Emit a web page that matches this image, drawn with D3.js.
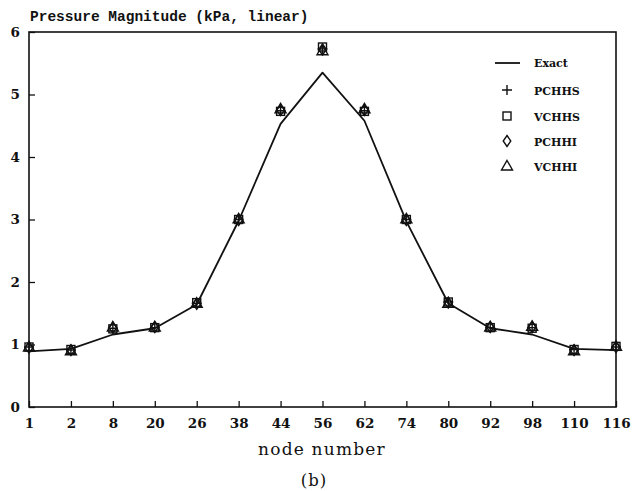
<!DOCTYPE html>
<html>
<head>
<meta charset="utf-8">
<script src="https://cdn.jsdelivr.net/npm/d3@7"></script>
<style>
  html, body { margin: 0; padding: 0; background: #fff; }
  svg { display: block; }
</style>
</head>
<body>
<svg id="chart" width="641" height="491"></svg>
<script>
// Node numbers along the x axis (categorical, evenly spaced)
const nodes = ["1", "2", "8", "20", "26", "38", "44", "56", "62", "74", "80", "92", "98", "110", "116"];

// Exact solution (kPa)
const exact = [0.89, 0.93, 1.16, 1.26, 1.64, 2.98, 4.53, 5.35, 4.58, 2.97, 1.66, 1.26, 1.16, 0.93, 0.91];
// Numerical solutions (kPa)
const pchhs = [0.96, 0.91, 1.26, 1.27, 1.66, 3.00, 4.74, 5.73, 4.74, 3.00, 1.68, 1.27, 1.27, 0.92, 0.96];
const vchhs = [0.96, 0.92, 1.25, 1.27, 1.67, 3.00, 4.73, 5.76, 4.73, 3.00, 1.68, 1.27, 1.26, 0.92, 0.97];
const pchhi = [0.95, 0.91, 1.27, 1.28, 1.65, 2.99, 4.75, 5.72, 4.75, 2.99, 1.67, 1.28, 1.28, 0.91, 0.96];
const vchhi = [0.96, 0.90, 1.28, 1.28, 1.66, 3.01, 4.77, 5.70, 4.77, 3.01, 1.66, 1.28, 1.29, 0.90, 0.97];

const yTicks = [0, 1, 2, 3, 4, 5, 6];
const legendLabels = ["Exact", "PCHHS", "VCHHS", "PCHHI", "VCHHI"];

const svg = d3.select("#chart");
const plotLeft = 29, plotRight = 616, plotTop = 32, plotBottom = 407;

const x = d3.scalePoint().domain(nodes).range([plotLeft, plotRight]).padding(0);
const y = d3.scaleLinear().domain([0, 6]).range([plotBottom, plotTop]);

const serif = "'DejaVu Serif', 'Liberation Serif', serif";
const mono = "'Liberation Mono', 'DejaVu Sans Mono', monospace";

// Plot frame
svg.append("rect")
  .attr("x", plotLeft).attr("y", plotTop)
  .attr("width", plotRight - plotLeft).attr("height", plotBottom - plotTop)
  .attr("fill", "none").attr("stroke", "#111").attr("stroke-width", 1.6);

// X axis: ticks pointing into the plot
const xAxis = svg.append("g")
  .attr("transform", `translate(0,${plotBottom})`)
  .call(d3.axisBottom(x).tickSizeInner(-6).tickSizeOuter(0).tickPadding(11));
xAxis.select(".domain").remove();
xAxis.selectAll(".tick line").attr("stroke", "#111").attr("stroke-width", 1.3);
xAxis.selectAll(".tick text")
  .attr("font-family", serif).attr("font-weight", "bold")
  .attr("font-size", 13.5).attr("fill", "#111");

// Y axis: ticks pointing into the plot
const yAxis = svg.append("g")
  .attr("transform", `translate(${plotLeft},0)`)
  .call(d3.axisLeft(y).tickValues(yTicks).tickFormat(d3.format("d"))
    .tickSizeInner(-6).tickSizeOuter(0).tickPadding(9));
yAxis.select(".domain").remove();
yAxis.selectAll(".tick line").attr("stroke", "#111").attr("stroke-width", 1.3);
yAxis.selectAll(".tick text")
  .attr("font-family", serif).attr("font-weight", "bold")
  .attr("font-size", 13.5).attr("fill", "#111");

// Exact solution line
const line = d3.line().x((d, i) => x(nodes[i])).y(d => y(d));
svg.append("path")
  .datum(exact)
  .attr("d", line)
  .attr("fill", "none").attr("stroke", "#111").attr("stroke-width", 1.8)
  .attr("stroke-linejoin", "round");

// Outline marker glyphs
function drawMarker(g, kind, cx, cy) {
  const s = g.append("g").attr("transform", `translate(${cx},${cy})`)
    .attr("fill", "none").attr("stroke", "#111").attr("stroke-width", 1.4);
  if (kind === "plus") {
    s.append("path").attr("d", "M-5,0H5M0,-5V5");
  } else if (kind === "square") {
    s.append("rect").attr("x", -4).attr("y", -4).attr("width", 8).attr("height", 8);
  } else if (kind === "diamond") {
    s.append("path").attr("d", "M0,-5.5L3.8,0L0,5.5L-3.8,0Z");
  } else if (kind === "triangle") {
    s.append("path").attr("d", "M0,-5.5L5.5,4L-5.5,4Z");
  }
}

const seriesList = [
  { values: pchhs, kind: "plus" },
  { values: vchhs, kind: "square" },
  { values: pchhi, kind: "diamond" },
  { values: vchhi, kind: "triangle" }
];
const markers = svg.append("g");
seriesList.forEach(s => {
  s.values.forEach((v, i) => drawMarker(markers, s.kind, x(nodes[i]), y(v)));
});

// Legend
const legend = svg.append("g");
const legendKinds = ["line", "plus", "square", "diamond", "triangle"];
const legendY = [63, 91, 117, 142, 167];
legendLabels.forEach((lab, i) => {
  const ly = legendY[i];
  if (legendKinds[i] === "line") {
    legend.append("line").attr("x1", 495).attr("x2", 520).attr("y1", ly).attr("y2", ly)
      .attr("stroke", "#111").attr("stroke-width", 1.8);
  } else {
    drawMarker(legend, legendKinds[i], 507, ly - 1);
  }
  legend.append("text")
    .attr("x", 534).attr("y", ly + 4)
    .attr("font-family", serif).attr("font-weight", "bold")
    .attr("font-size", 11).attr("fill", "#111")
    .text(lab);
});

// Title and axis labels
svg.append("text")
  .attr("x", 30).attr("y", 21)
  .attr("font-family", mono).attr("font-weight", "bold")
  .attr("font-size", 14.5).attr("fill", "#111")
  .text("Pressure Magnitude (kPa, linear)");

svg.append("text")
  .attr("x", 322).attr("y", 455)
  .attr("text-anchor", "middle")
  .attr("font-family", serif)
  .attr("font-size", 17).attr("letter-spacing", 1.2).attr("fill", "#111")
  .text("node number");

svg.append("text")
  .attr("x", 314).attr("y", 486)
  .attr("text-anchor", "middle")
  .attr("font-family", serif)
  .attr("font-size", 16.5).attr("letter-spacing", 1).attr("fill", "#111")
  .text("(b)");
</script>
</body>
</html>
